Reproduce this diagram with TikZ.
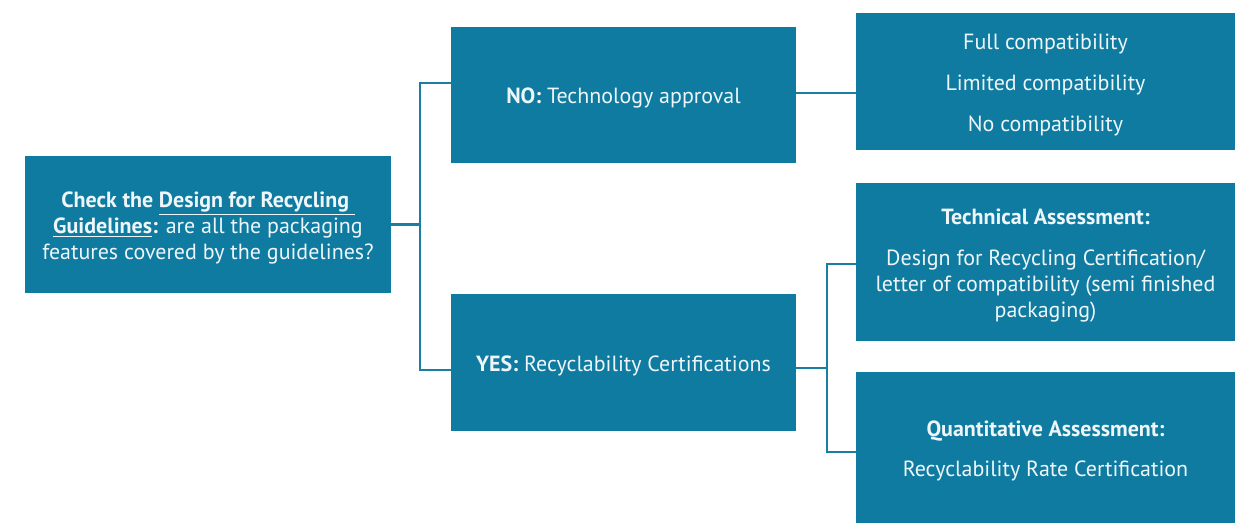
\documentclass[tikz,border=0pt]{standalone}
\usepackage{fontspec}
\setmainfont{PT Sans}
\usetikzlibrary{positioning}
\definecolor{boxblue}{HTML}{0F7BA0}
\definecolor{lineblue}{HTML}{1A7EA3}
\definecolor{boxtext}{HTML}{EEF6F9}
\newcommand{\toprow}{\rule{0pt}{12.7pt}}
\begin{document}
\begin{tikzpicture}[x=0.02cm, y=-0.02cm, inner sep=1mm,
  box/.style={rectangle, fill=boxblue, text=boxtext, align=center,
    font=\fontsize{12.5}{14.7}\selectfont},
  link/.style={draw=lineblue, line width=1.3pt}]
\useasboundingbox (0,0) rectangle (1243,523);
\node (chk) at (208,224.5) [box, minimum width=7.32cm, minimum height=2.74cm]
  {\toprow\textbf{Check the \underline{Design for Recycling\ }}\\
   \textbf{\underline{Guidelines}:} are all the packaging\\
   features covered by the guidelines?};
\node (no) at (623.5,95) [box, minimum width=6.9cm, minimum height=2.72cm] {\toprow\textbf{NO:} Technology approval};
\node (yes) at (623.5,362.5) [box, minimum width=6.9cm, minimum height=2.74cm] {\toprow\textbf{YES:} Recyclability Certifications};
\node (full) at (1045.5,81.5) [box, minimum width=7.58cm, minimum height=2.74cm]
  {\toprow Full compatibility\\[8.5pt] Limited compatibility\\[8.5pt] No compatibility};
\node (tech) at (1045.5,262) [box, minimum width=7.58cm, minimum height=3.16cm]
  {\toprow\textbf{Technical Assessment:}\\[9pt] Design for Recycling Certification/\\
   letter of compatibility (semi finished\\ packaging)};
\node (quant) at (1045.5,447.5) [box, minimum width=7.58cm, minimum height=3.02cm]
  {\toprow\textbf{Quantitative Assessment:}\\[8pt] Recyclability Rate Certification};
\coordinate (j1) at (420,224.5);
\coordinate (j2) at (827,368);
\draw[link] (chk.east |- j1) -- (j1);
\draw[link] (j1) |- ([yshift=0.24cm]no.west);
\draw[link] (j1) |- ([yshift=-0.15cm]yes.west);
\draw[link] (no.east |- 0,93) -- (full.west |- 0,93);
\draw[link] (yes.east |- j2) -- (j2);
\draw[link] (j2) |- ([yshift=-0.04cm]tech.west);
\draw[link] (j2) |- ([yshift=-0.09cm]quant.west);
\end{tikzpicture}
\end{document}
